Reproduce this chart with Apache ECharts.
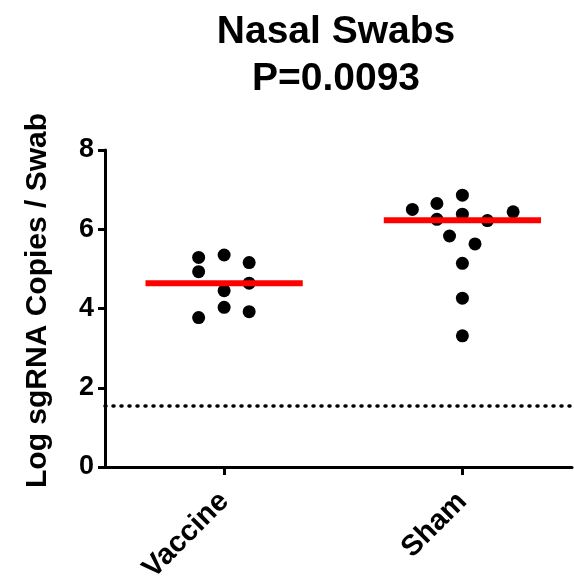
<!DOCTYPE html>
<html>
<head>
<meta charset="utf-8">
<script src="https://cdn.jsdelivr.net/npm/echarts@6/dist/echarts.min.js"></script>
<style>
  html, body { margin: 0; padding: 0; background: #fff; }
  #chart { width: 574px; height: 579px; }
</style>
</head>
<body>
<div id="chart"></div>
<script>
// groups on the x axis (positions 1 and 2)
const groups = ['Vaccine', 'Sham']
// log sgRNA copies per swab
const vaccineValues = [5.29, 4.93, 5.35, 5.16, 4.64, 4.45, 4.03, 3.92, 3.77]
const vaccineOffsets = [-0.107, -0.107, 0, 0.105, 0.105, 0, 0, 0.105, -0.107]
const shamValues = [6.50, 6.65, 6.86, 6.25, 6.38, 6.22, 6.44, 5.83, 5.63, 5.14, 4.26, 3.31]
const shamOffsets = [-0.21, -0.107, 0, -0.107, 0, 0.105, 0.213, -0.054, 0.053, 0, 0, 0]
const medians = [4.64, 6.23]
const detectionLimit = 1.54
const medianHalfWidth = 0.33

const font = '"Liberation Sans", Arial, Helvetica, sans-serif'

function points(values, offsets, pos) {
  return values.map((v, i) => [pos + offsets[i], v])
}

const myChart = echarts.init(document.getElementById('chart'))

myChart.setOption({
  animation: false,
  textStyle: { fontFamily: font },
  title: {
    text: 'Nasal Swabs\nP=0.0093',
    left: 331,
    top: 4,
    textAlign: 'center',
    textStyle: {
      fontFamily: font,
      fontSize: 39,
      fontWeight: 'bold',
      lineHeight: 47,
      color: '#000',
    },
  },
  grid: {
    left: 105,
    right: 2,
    top: 150,
    bottom: 112,
    outerBoundsMode: 'none',
  },
  xAxis: {
    type: 'value',
    min: 0.5,
    max: 2.46,
    splitLine: { show: false },
    axisLine: {
      show: true,
      onZero: false,
      lineStyle: { color: '#000', width: 3 },
    },
    axisTick: {
      show: true,
      customValues: [1, 2],
      length: 8,
      lineStyle: { color: '#000', width: 3 },
    },
    axisLabel: {
      customValues: [1, 2],
      formatter: (v) => groups[Math.round(v) - 1],
      rotate: 45,
      margin: 30,
      fontFamily: font,
      fontSize: 29,
      fontWeight: 'bold',
      color: '#000',
    },
  },
  yAxis: {
    type: 'value',
    min: 0,
    max: 8,
    interval: 2,
    name: 'Log sgRNA Copies / Swab',
    nameLocation: 'middle',
    nameRotate: 90,
    nameGap: 52,
    nameTextStyle: {
      fontFamily: font,
      fontSize: 30,
      fontWeight: 'bold',
      color: '#000',
      padding: [0, 0, 0, 16],
    },
    splitLine: { show: false },
    axisLine: {
      show: true,
      lineStyle: { color: '#000', width: 3 },
    },
    axisTick: {
      show: true,
      length: 7,
      lineStyle: { color: '#000', width: 3 },
    },
    axisLabel: {
      margin: 11,
      fontFamily: font,
      fontSize: 27,
      fontWeight: 'bold',
      color: '#000',
    },
  },
  series: [
    {
      type: 'scatter',
      symbolSize: 13,
      itemStyle: { color: '#000', opacity: 1 },
      data: points(vaccineValues, vaccineOffsets, 1),
      z: 2,
      markLine: {
        silent: true,
        symbol: 'none',
        label: { show: false },
        lineStyle: { color: '#000', type: [1, 7], cap: 'round', width: 3.5 },
        data: [{ yAxis: detectionLimit }],
      },
    },
    {
      type: 'scatter',
      symbolSize: 13,
      itemStyle: { color: '#000', opacity: 1 },
      data: points(shamValues, shamOffsets, 2),
      z: 2,
    },
    ...medians.map((m, i) => ({
      type: 'line',
      symbol: 'none',
      z: 3,
      lineStyle: { color: '#ff0000', width: 6 },
      data: [[i + 1 - medianHalfWidth, m], [i + 1 + medianHalfWidth, m]],
    })),
  ],
})
</script>
</body>
</html>
